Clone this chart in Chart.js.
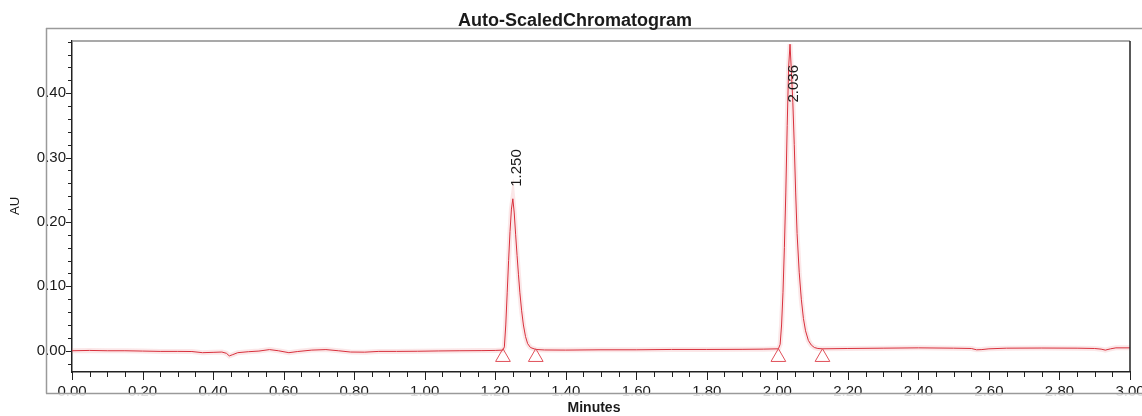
<!DOCTYPE html>
<html><head><meta charset="utf-8">
<script src="https://cdn.jsdelivr.net/npm/chart.js@4.4.1/dist/chart.umd.min.js"></script>
<style>html,body{margin:0;padding:0;background:#fff;}canvas{display:block;}</style>
</head><body>
<canvas id="c" width="1142" height="416"></canvas>
<script>
const chartTitle = 'Auto-ScaledChromatogram';
const xAxisTitle = 'Minutes';
const yAxisTitle = 'AU';

const times = [
  0.00, 0.05, 0.10, 0.15, 0.20, 0.25, 0.30, 0.34, 0.37, 0.40, 0.425, 0.438, 0.446, 0.456, 0.47,
  0.50, 0.53, 0.56, 0.585, 0.615, 0.64, 0.68, 0.72, 0.755, 0.79, 0.83, 0.87, 0.92, 0.98, 1.04,
  1.10, 1.16, 1.20, 1.222,
  1.226, 1.230, 1.234, 1.238, 1.242, 1.246, 1.250, 1.254, 1.258, 1.262, 1.266, 1.270, 1.275,
  1.280, 1.286, 1.292, 1.300, 1.315,
  1.34, 1.40, 1.50, 1.60, 1.70, 1.80, 1.90, 1.96, 2.003,
  2.008, 2.012, 2.016, 2.020, 2.024, 2.028, 2.032, 2.036, 2.040, 2.044, 2.048, 2.052, 2.056,
  2.062, 2.068, 2.074, 2.080, 2.088, 2.096, 2.105, 2.115, 2.128,
  2.20, 2.30, 2.40, 2.50, 2.55, 2.565, 2.58, 2.60, 2.65, 2.75, 2.85, 2.90, 2.918, 2.93, 2.945,
  2.96, 3.00
];
const absorbance = [
  0.000, 0.0005, 0.000, 0.000, -0.0005, -0.001, -0.001, -0.0012, -0.003, -0.0025, -0.002, -0.004, -0.008, -0.006, -0.003,
  -0.0015, -0.0005, 0.0018, 0.000, -0.003, -0.0012, 0.001, 0.0018, 0.000, -0.002, -0.0022, -0.001, -0.001, -0.0008, -0.0003,
  0.000, 0.0002, 0.0005, 0.001,
  0.006, 0.040, 0.090, 0.140, 0.185, 0.220, 0.236, 0.214, 0.180, 0.148, 0.118, 0.090, 0.062,
  0.040, 0.022, 0.011, 0.005, 0.002,
  0.0012, 0.001, 0.0015, 0.0015, 0.002, 0.002, 0.0022, 0.0025, 0.003,
  0.010, 0.040, 0.090, 0.160, 0.245, 0.350, 0.440, 0.476, 0.432, 0.385, 0.320, 0.245, 0.182,
  0.122, 0.080, 0.050, 0.031, 0.016, 0.009, 0.005, 0.0035, 0.003,
  0.0035, 0.004, 0.0045, 0.004, 0.0035, 0.0015, 0.0018, 0.003, 0.004, 0.0042, 0.004, 0.0035, 0.0025, 0.001, 0.003,
  0.0045, 0.0045
];

const peakTimes = [1.250, 2.036];
const peakLabels = ['1.250', '2.036'];
const markerTimes = [1.222, 1.315, 2.003, 2.128];
const markerValues = [-0.010, -0.010, -0.010, -0.010];

const xTickLabels = ['0.00','0.20','0.40','0.60','0.80','1.00','1.20','1.40','1.60','1.80','2.00','2.20','2.40','2.60','2.80','3.00'];
const yTickLabels = ['0.00','0.10','0.20','0.30','0.40'];
const xMin = 0, xMax = 3.0, xMinorStep = 0.05;
const yMin = -0.033, yMax = 0.481, yMinorStep = 0.02;

const FONT = "'Liberation Sans', Arial, sans-serif";
const fmt = v => (Math.round(v * 100) / 100).toFixed(2);
const isLabelled = (v, list) => list.includes(fmt(v));

const tracePoints = times.map((t, i) => ({x: t, y: absorbance[i]}));
const markerPoints = markerTimes.map((t, i) => ({x: t, y: markerValues[i]}));

function peakValue(t) {
  let best = -Infinity;
  times.forEach((tt, i) => { if (Math.abs(tt - t) < 0.012) best = Math.max(best, absorbance[i]); });
  return best;
}

const decor = {
  id: 'decor',
  afterDraw(chart) {
    const {ctx, chartArea: a, scales: {x, y}} = chart;
    const W = chart.width;
    const seg = (x1, y1, x2, y2) => { ctx.beginPath(); ctx.moveTo(x1, y1); ctx.lineTo(x2, y2); ctx.stroke(); };
    ctx.save();
    // soften the lower part of the x tick labels (cut by frame)
    ctx.fillStyle = 'rgba(255,255,255,0.85)';
    ctx.fillRect(a.left - 30, 394, W - a.left + 30, 5);
    // outer frame
    ctx.strokeStyle = '#9a9a9a';
    ctx.lineWidth = 1.5;
    seg(46, 28.5, W, 28.5);
    seg(46.5, 28, 46.5, 393.5);
    seg(46, 393.5, W, 393.5);
    // plot box top (grey) and right (dark)
    ctx.strokeStyle = '#8c8c8c';
    ctx.lineWidth = 1.5;
    seg(a.left, a.top, a.right, a.top);
    ctx.strokeStyle = '#222';
    ctx.lineWidth = 1.5;
    seg(a.right, a.top, a.right, a.bottom);
    // tick marks
    ctx.strokeStyle = '#222';
    ctx.lineWidth = 1;
    y.ticks.forEach(t => {
      const py = Math.round(y.getPixelForValue(t.value)) + 0.5;
      const len = isLabelled(t.value, yTickLabels) ? 6 : 4;
      seg(a.left - len, py, a.left, py);
    });
    x.ticks.forEach(t => {
      const px = Math.round(x.getPixelForValue(t.value)) + 0.5;
      const len = isLabelled(t.value, xTickLabels) ? 8 : 5;
      seg(px, a.bottom, px, a.bottom + len);
    });
    // texts
    ctx.fillStyle = '#1a1a1a';
    ctx.font = 'bold 18px ' + FONT;
    ctx.textAlign = 'center';
    ctx.textBaseline = 'alphabetic';
    ctx.fillText(chartTitle, 575, 26);
    ctx.font = 'bold 14px ' + FONT;
    ctx.textBaseline = 'middle';
    ctx.fillText(xAxisTitle, 594, 408);
    ctx.save();
    ctx.translate(15, 206);
    ctx.rotate(-Math.PI / 2);
    ctx.font = '13px ' + FONT;
    ctx.fillText(yAxisTitle, 0, 0);
    ctx.restore();
    // peak retention-time labels
    ctx.font = '15px ' + FONT;
    ctx.textAlign = 'left';
    ctx.textBaseline = 'middle';
    peakTimes.forEach((t, i) => {
      const px = x.getPixelForValue(t) + 4;
      const py = y.getPixelForValue(peakValue(t));
      const w = ctx.measureText(peakLabels[i]).width;
      let start = py - 12;
      if (start - w < a.top + 20) start = a.top + 24 + w;
      ctx.save();
      ctx.translate(px, start);
      ctx.rotate(-Math.PI / 2);
      ctx.fillText(peakLabels[i], 0, 0);
      ctx.restore();
    });
    ctx.restore();
  }
};

new Chart(document.getElementById('c'), {
  type: 'line',
  data: {
    datasets: [
      { data: tracePoints, borderColor: 'rgba(235,120,130,0.18)', borderWidth: 5, pointRadius: 0, tension: 0, order: 3 },
      { data: tracePoints, borderColor: '#d8303c', borderWidth: 1, pointRadius: 0, tension: 0, order: 2 },
      { data: markerPoints, showLine: false, pointStyle: 'triangle', pointRadius: 8.5,
        borderColor: '#e0505a', borderWidth: 1, backgroundColor: 'rgba(0,0,0,0)', order: 1 }
    ]
  },
  options: {
    responsive: false,
    animation: false,
    devicePixelRatio: 1,
    layout: { padding: { top: 41, right: 12, bottom: 0, left: 0 } },
    plugins: { legend: { display: false }, tooltip: { enabled: false }, title: { display: false } },
    scales: {
      x: {
        type: 'linear', min: xMin, max: xMax,
        afterFit: s => { s.height = 44; s.paddingLeft = 0; s.paddingRight = 0; },
        border: { display: true, color: '#222', width: 1.5 },
        grid: { display: true, drawOnChartArea: false, drawTicks: true, tickLength: 6, tickColor: 'rgba(0,0,0,0)' },
        ticks: {
          stepSize: xMinorStep, autoSkip: false, maxRotation: 0, padding: 5, color: '#1a1a1a',
          font: { family: FONT, size: 15 },
          callback: v => isLabelled(v, xTickLabels) ? fmt(v) : ''
        }
      },
      y: {
        type: 'linear', min: yMin, max: yMax,
        afterFit: s => { s.width = 72; s.paddingTop = 0; s.paddingBottom = 0; },
        border: { display: true, color: '#222', width: 1.5 },
        grid: { display: true, drawOnChartArea: false, drawTicks: true, tickLength: 5, tickColor: 'rgba(0,0,0,0)' },
        ticks: {
          stepSize: yMinorStep, includeBounds: false, autoSkip: false, padding: 1, color: '#1a1a1a',
          font: { family: FONT, size: 15 },
          callback: v => isLabelled(v, yTickLabels) ? fmt(v) : ''
        }
      }
    }
  },
  plugins: [decor]
});
</script>
</body></html>
